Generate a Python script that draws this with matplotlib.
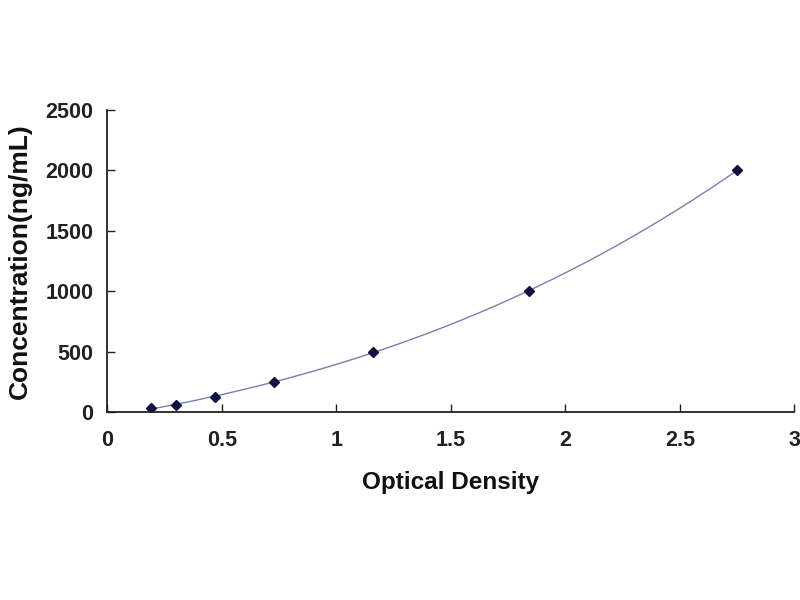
import numpy as np
import matplotlib
matplotlib.use("Agg")
import matplotlib.pyplot as plt

od = [0.19, 0.30, 0.47, 0.73, 1.16, 1.84, 2.75]
conc = [31.25, 62.5, 125, 250, 500, 1000, 2000]
xticks = [0, 0.5, 1, 1.5, 2, 2.5, 3]
xticklabels = ["0", "0.5", "1", "1.5", "2", "2.5", "3"]
yticks = [0, 500, 1000, 1500, 2000, 2500]
yticklabels = ["0", "500", "1000", "1500", "2000", "2500"]

plt.rcParams['font.family'] = ['Liberation Sans', 'DejaVu Sans']

fig = plt.figure(figsize=(8, 6), dpi=100)
ax = fig.add_axes([0.134, 0.313, 0.859, 0.504])

coef = np.polyfit(od, conc, 3)
xs = np.linspace(min(od), max(od), 300)
ax.plot(xs, np.polyval(coef, xs), color='#7a7fb0', lw=1.0)
ax.plot(od, conc, linestyle='none', marker='D', markersize=5, color='#101040')

ax.set_xlim(0, 3)
ax.set_ylim(0, 2500)
ax.set_xticks(xticks)
ax.set_xticklabels(xticklabels)
ax.set_yticks(yticks)
ax.set_yticklabels(yticklabels)
for s in ['top', 'right']:
    ax.spines[s].set_visible(False)
for s in ['left', 'bottom']:
    ax.spines[s].set_linewidth(1.3)
    ax.spines[s].set_color('#222222')
ax.tick_params(direction='in', length=6, width=1, colors='#222222', labelsize=15.5)
ax.tick_params(axis='x', pad=13)
ax.tick_params(axis='y', pad=10)
for lab in ax.get_xticklabels() + ax.get_yticklabels():
    lab.set_fontweight('bold')
    lab.set_color('#222222')
ax.set_xlabel('Optical Density', fontsize=17.5, fontweight='bold', color='#111111', labelpad=14)
ax.set_ylabel('Concentration(ng/mL)', fontsize=19, fontweight='bold', color='#111111', labelpad=10)

fig.savefig('out.png', dpi=100, facecolor='white')
